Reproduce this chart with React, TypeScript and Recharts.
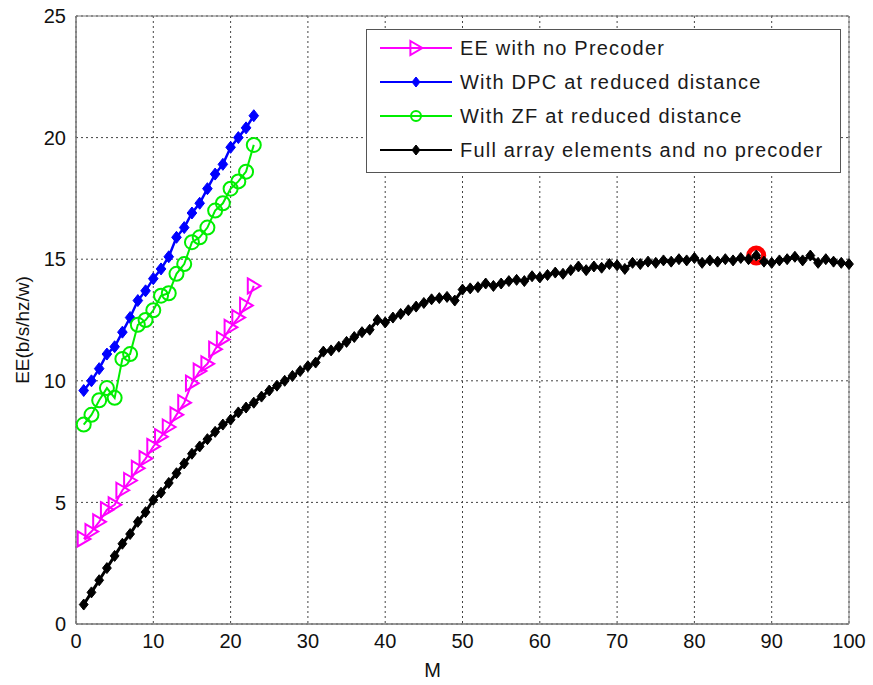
import React from "react";
import {
  LineChart,
  Line,
  XAxis,
  YAxis,
  CartesianGrid,
  Legend,
  ReferenceArea,
  ReferenceDot,
} from "recharts";

// M values for the reduced-distance curves
const mShort = [1, 2, 3, 4, 5, 6, 7, 8, 9, 10, 11, 12, 13, 14, 15, 16, 17, 18, 19, 20, 21, 22, 23];

const eeNoPrecoder = [
  3.5, 3.8, 4.2, 4.7, 4.9, 5.5, 5.9, 6.4, 6.8, 7.3, 7.7, 8.1, 8.6, 9.1, 9.9, 10.4, 10.7, 11.3,
  11.7, 12.2, 12.6, 13.1, 13.9,
];

const eeDPC = [
  9.6, 10.0, 10.5, 11.1, 11.4, 12.0, 12.6, 13.3, 13.7, 14.2, 14.6, 15.1, 15.9, 16.3, 16.9, 17.3,
  17.9, 18.5, 18.9, 19.6, 20.0, 20.4, 20.9,
];

const eeZF = [
  8.2, 8.6, 9.2, 9.7, 9.3, 10.9, 11.1, 12.3, 12.5, 12.9, 13.5, 13.6, 14.4, 14.8, 15.7, 15.9, 16.3,
  17.0, 17.3, 17.9, 18.2, 18.6, 19.7,
];

// M values for the full array curve
const mFull = [
  1, 2, 3, 4, 5, 6, 7, 8, 9, 10, 11, 12, 13, 14, 15, 16, 17, 18, 19, 20, 21, 22, 23, 24, 25, 26,
  27, 28, 29, 30, 31, 32, 33, 34, 35, 36, 37, 38, 39, 40, 41, 42, 43, 44, 45, 46, 47, 48, 49, 50,
  51, 52, 53, 54, 55, 56, 57, 58, 59, 60, 61, 62, 63, 64, 65, 66, 67, 68, 69, 70, 71, 72, 73, 74,
  75, 76, 77, 78, 79, 80, 81, 82, 83, 84, 85, 86, 87, 88, 89, 90, 91, 92, 93, 94, 95, 96, 97, 98,
  99, 100,
];

const eeFullArray = [
  0.8, 1.3, 1.8, 2.3, 2.8, 3.3, 3.7, 4.2, 4.6, 5.1, 5.4, 5.8, 6.2, 6.6, 7.0, 7.3, 7.6, 7.9, 8.2,
  8.4, 8.7, 8.9, 9.1, 9.35, 9.6, 9.8, 10.0, 10.2, 10.4, 10.6, 10.75, 11.2, 11.25, 11.4, 11.6, 11.8,
  12.0, 12.1, 12.5, 12.4, 12.6, 12.75, 12.9, 13.05, 13.2, 13.35, 13.4, 13.45, 13.3, 13.75, 13.8,
  13.85, 14.0, 13.9, 14.0, 14.1, 14.15, 14.1, 14.3, 14.25, 14.35, 14.45, 14.4, 14.55, 14.7, 14.55,
  14.7, 14.65, 14.8, 14.75, 14.6, 14.85, 14.8, 14.9, 14.85, 14.95, 14.9, 15.0, 14.95, 15.05, 14.85,
  14.95, 14.9, 15.0, 14.95, 15.05, 15.0, 15.15, 14.9, 14.85, 14.95, 15.0, 15.1, 14.95, 15.15, 14.85,
  15.0, 14.9, 14.85, 14.8,
];

// highlighted optimum on the full array curve
const highlightM = 88;
const highlightEE = 15.15;

const xTicks = [0, 10, 20, 30, 40, 50, 60, 70, 80, 90, 100];
const yTicks = [0, 5, 10, 15, 20, 25];

const toPoints = (ms: number[], ys: number[]) => ms.map((m, i) => ({ m, ee: ys[i] }));

const FONT = '"Liberation Sans", Arial, Helvetica, sans-serif';
const MAGENTA = "#ff00ff";
const BLUE = "#0000ff";
const GREEN = "#00ee00";
const BLACK = "#000000";

type Marker = "triangle" | "diamond" | "circle";

function MarkerShape({ kind, cx, cy, color, size }: { kind: Marker; cx: number; cy: number; color: string; size: number }) {
  if (kind === "triangle") {
    const h = size;
    return (
      <polygon
        points={`${cx - h * 0.8},${cy - h} ${cx + h * 0.9},${cy} ${cx - h * 0.8},${cy + h}`}
        fill="none"
        stroke={color}
        strokeWidth={2}
      />
    );
  }
  if (kind === "circle") {
    return <circle cx={cx} cy={cy} r={size} fill="none" stroke={color} strokeWidth={2} />;
  }
  return (
    <polygon
      points={`${cx},${cy - size} ${cx + size * 0.8},${cy} ${cx},${cy + size} ${cx - size * 0.8},${cy}`}
      fill={color}
      stroke={color}
      strokeWidth={1}
    />
  );
}

const makeDot = (kind: Marker, color: string, size: number) => (props: any) => {
  const { cx, cy, index } = props;
  if (cx == null || cy == null) return <g key={`e-${index}`} />;
  return (
    <g key={`${kind}-${color}-${index}`}>
      <MarkerShape kind={kind} cx={cx} cy={cy} color={color} size={size} />
    </g>
  );
};

const legendItems: { name: string; color: string; marker: Marker; size: number }[] = [
  { name: "EE with no Precoder", color: MAGENTA, marker: "triangle", size: 7 },
  { name: "With DPC at reduced distance", color: BLUE, marker: "diamond", size: 5 },
  { name: "With ZF at reduced distance", color: GREEN, marker: "circle", size: 5 },
  { name: "Full array elements and no precoder", color: BLACK, marker: "diamond", size: 5 },
];

function LegendBox() {
  return (
    <svg width={475} height={144} style={{ display: "block" }}>
      <rect x={0.5} y={0.5} width={474} height={143} fill="#fff" stroke="#555" strokeWidth={1} />
      {legendItems.map((it, i) => {
        const y = 19 + i * 34;
        return (
          <g key={it.name}>
            <line x1={14} x2={86} y1={y} y2={y} stroke={it.color} strokeWidth={2} />
            <MarkerShape kind={it.marker} cx={50} cy={y} color={it.color} size={it.size} />
            <text
              x={94}
              y={y + 7}
              fontFamily={FONT}
              fontSize={20}
              fill="#1a1a1a"
              style={{ letterSpacing: "1.2px" }}
            >
              {it.name}
            </text>
          </g>
        );
      })}
    </svg>
  );
}

export default function App() {
  const tickStyle = { fill: "#111", fontSize: 20, fontFamily: FONT };
  return (
    <div style={{ position: "absolute", left: 0, top: 0, width: 873, height: 685, background: "#fff" }}>
      <LineChart width={873} height={685} margin={{ top: 16, right: 24, left: 0, bottom: 0 }}>
        <CartesianGrid stroke="#444" strokeDasharray="2 3" strokeWidth={1} />
        <XAxis
          dataKey="m"
          type="number"
          domain={[0, 100]}
          ticks={xTicks}
          allowDuplicatedCategory={false}
          height={61}
          tick={tickStyle}
          tickLine={false}
          tickMargin={4}
          axisLine={{ stroke: "#777" }}
          label={{ value: "M", position: "insideBottom", offset: 8, dx: -30, style: { fill: "#111", fontSize: 20, fontFamily: FONT } }}
        />
        <YAxis
          type="number"
          domain={[0, 25]}
          ticks={yTicks}
          width={76}
          tick={tickStyle}
          tickLine={false}
          tickMargin={4}
          axisLine={{ stroke: "#777" }}
          label={{
            value: "EE(b/s/hz/w)",
            angle: -90,
            position: "insideLeft",
            offset: 22,
            dy: 10,
            style: { fill: "#111", fontSize: 19, fontFamily: FONT, textAnchor: "middle" },
          }}
        />
        <ReferenceArea x1={0} x2={100} y1={0} y2={25} fill="none" stroke="#777" strokeWidth={1} />
        <Legend
          verticalAlign="middle"
          layout="horizontal"
          content={() => <LegendBox />}
          wrapperStyle={{ position: "absolute", left: 366, top: 29, width: 475, height: 144 }}
        />
        <Line
          data={toPoints(mShort, eeNoPrecoder)}
          dataKey="ee"
          name="EE with no Precoder"
          stroke={MAGENTA}
          strokeWidth={2}
          dot={makeDot("triangle", MAGENTA, 7.5)}
          isAnimationActive={false}
        />
        <Line
          data={toPoints(mShort, eeDPC)}
          dataKey="ee"
          name="With DPC at reduced distance"
          stroke={BLUE}
          strokeWidth={2.5}
          dot={makeDot("diamond", BLUE, 6)}
          isAnimationActive={false}
        />
        <Line
          data={toPoints(mShort, eeZF)}
          dataKey="ee"
          name="With ZF at reduced distance"
          stroke={GREEN}
          strokeWidth={2}
          dot={makeDot("circle", GREEN, 7)}
          isAnimationActive={false}
        />
        <Line
          data={toPoints(mFull, eeFullArray)}
          dataKey="ee"
          name="Full array elements and no precoder"
          stroke={BLACK}
          strokeWidth={3}
          dot={makeDot("diamond", BLACK, 5.5)}
          isAnimationActive={false}
        />
        <ReferenceDot x={highlightM} y={highlightEE} r={7.5} fill="none" stroke="#ff0000" strokeWidth={5} />
      </LineChart>
    </div>
  );
}
